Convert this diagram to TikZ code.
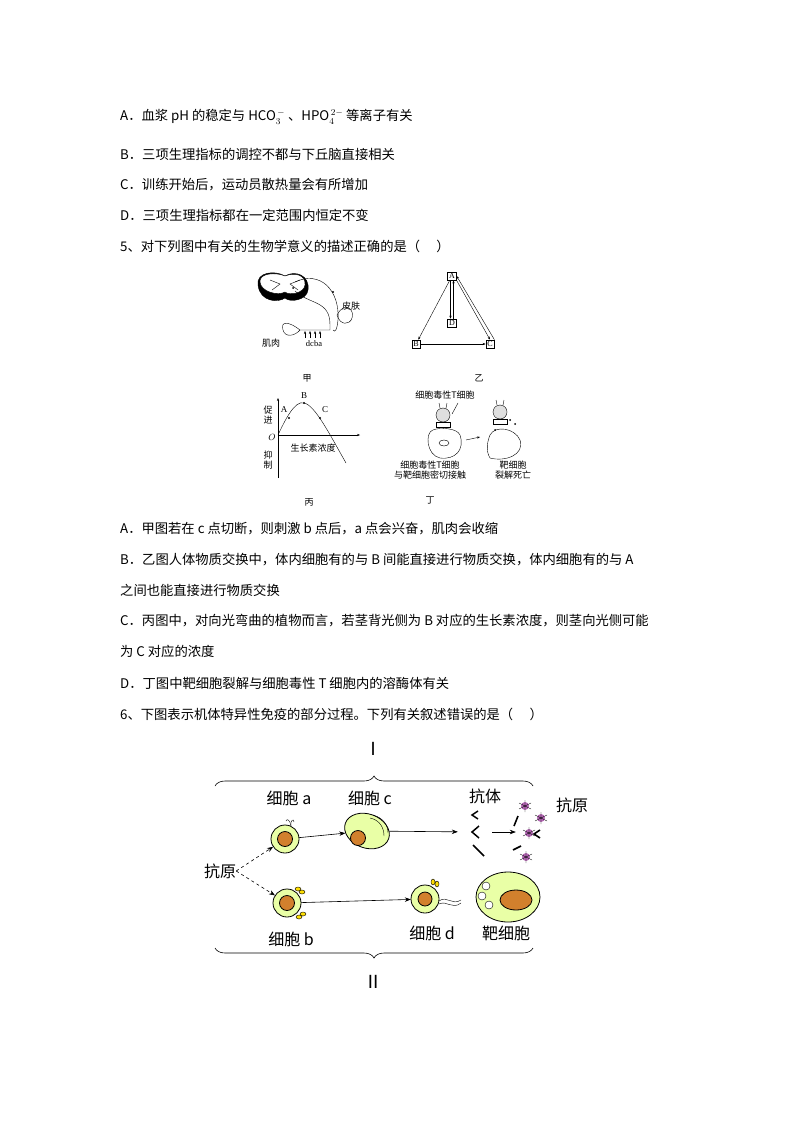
\documentclass[tikz,border=0pt]{standalone}
\usepackage{fontspec}
\setmainfont{Liberation Serif}
\newfontfamily\cjk{Noto Sans CJK SC}
\usetikzlibrary{arrows.meta,decorations.pathreplacing,shapes.geometric}
\begin{document}
\begin{tikzpicture}[x=1pt,y=-1pt,
  txt/.style={anchor=west,inner sep=0,font=\cjk\fontsize{13.3}{15}\selectfont},
  sm/.style={inner sep=0,font=\cjk\fontsize{9}{10.5}\selectfont},
  big/.style={inner sep=0,font=\cjk\fontsize{16}{18}\selectfont},
  bx/.style={draw,inner sep=1.5pt,font=\fontsize{8}{9}\selectfont},
  cell/.style={draw,thick,fill=green!25!yellow!35},
  nuc/.style={draw,thick,fill=brown!70!orange},
  ar/.style={-{Stealth[length=6pt]},semithick},
  sa/.style={-{Stealth[length=3pt]},thin}]
\useasboundingbox (0,0) rectangle (794,1123);
\node[txt] (t1) at (120,117) {A．血浆 pH 的稳定与 HCO$_3^{\,-}$ 、HPO$_4^{\,2-}$ 等离子有关};
\node[txt] (t2) at (120,154) {B．三项生理指标的调控不都与下丘脑直接相关};
\node[txt] (t3) at (120,185) {C．训练开始后，运动员散热量会有所增加};
\node[txt] (t4) at (120,215) {D．三项生理指标都在一定范围内恒定不变};
\node[txt] (t5) at (120,246) {5、对下列图中有关的生物学意义的描述正确的是（\quad\ ）};
\node[txt] (t6) at (120,529) {A．甲图若在 c 点切断，则刺激 b 点后，a 点会兴奋，肌肉会收缩};
\node[txt] (t7) at (120,560) {B．乙图人体物质交换中，体内细胞有的与 B 间能直接进行物质交换，体内细胞有的与 A};
\node[txt] (t8) at (120,590) {之间也能直接进行物质交换};
\node[txt] (t9) at (120,621) {C．丙图中，对向光弯曲的植物而言，若茎背光侧为 B 对应的生长素浓度，则茎向光侧可能};
\node[txt] (t10) at (120,651) {为 C 对应的浓度};
\node[txt] (t11) at (120,683) {D．丁图中靶细胞裂解与细胞毒性 T 细胞内的溶酶体有关};
\node[txt] (t12) at (120,714) {6、下图表示机体特异性免疫的部分过程。下列有关叙述错误的是（\quad\ ）};
% 甲
\draw[fill=black] (258,285) .. controls (256,272) and (275,270) .. (285,276) .. controls (295,270) and (310,275) .. (308,290) .. controls (307,300) and (290,303) .. (285,298) .. controls (278,303) and (260,302) .. (258,285);
\draw[fill=white] (260,282) .. controls (259,273) and (276,272) .. (285,276) .. controls (295,272) and (306,275) .. (305,285) .. controls (304,293) and (290,296) .. (285,292) .. controls (278,296) and (261,292) .. (260,282);
\draw (270,280) -- (280,284) -- (272,290) (300,280) -- (290,284) -- (298,290);
\fill (293,288) circle (1pt) (333,292) circle (1.2pt);
\draw (295,282) .. controls (320,270) and (340,290) .. (338,320) .. controls (337,330) and (335,333) .. (333,330);
\draw (295,291) .. controls (310,305) and (330,300) .. (330,325) -- (330,330) -- (300,330);
\draw (337,315) .. controls (345,300) and (355,310) .. (352,318) .. controls (350,325) and (340,326) .. (337,315);
\draw (300,330) .. controls (290,322) and (280,320) .. (283,330) .. controls (285,338) and (295,336) .. (300,330);
\foreach \x in {305,310,315,320}{\draw[sa] (\x,338) -- (\x,331);}
\node[sm] (jr) at (271,343) {肌肉};
\node[inner sep=0,font=\fontsize{8.5}{9}\selectfont] (dcba) at (314,344) {dcba};
\node[sm] (pf) at (351,306) {皮肤};
\node[sm] (jia) at (307,378) {甲};
% 乙
\node[bx] (A) at (452,276) {A};
\node[bx] (D) at (452,323) {D};
\node[bx] (B) at (416,344) {B};
\node[bx] (C) at (490,344) {C};
\draw[sa] (A) -- (B);
\draw[sa] (B) -- (C);
\draw[sa] ([xshift=-1.5pt]A.south) -- ([xshift=-1.5pt]D.north);
\draw[sa] ([xshift=1.5pt]D.north) -- ([xshift=1.5pt]A.south);
\draw[sa] (A.south east) -- (C.north);
\draw[sa] (C.north east) -- (A.east);
\node[sm] (yi) at (479,378) {乙};
% 丙
\coordinate (O) at (278,435);
\draw[sa] (278,478) -- (278,398);
\draw[sa] (O) -- (360,435);
\draw (O) .. controls (285,420) and (295,400) .. (304,403) .. controls (315,405) and (330,435) .. (346,463);
\fill (289,418) circle (1.2pt) (304,403) circle (1.2pt) (320,418) circle (1.2pt);
\node[inner sep=0,font=\fontsize{9}{9}\selectfont] (la) at (284,410) {A};
\node[inner sep=0,font=\fontsize{9}{9}\selectfont] (lb) at (304,396) {B};
\node[inner sep=0,font=\fontsize{9}{9}\selectfont] (lc) at (325,410) {C};
\node[inner sep=0,font=\itshape\fontsize{9}{9}\selectfont] (lo) at (272,437) {$O$};
\node[sm,align=center] (cj) at (268,415) {促\\进};
\node[sm,align=center] (yz) at (268,460) {抑\\制};
\node[sm] (szs) at (313,448) {生长素浓度};
\node[sm] (bing) at (309,502) {丙};
% 丁
\node[sm] (tc) at (445,395) {细胞毒性T细胞};
\draw[fill=gray!25] (443,415) circle (7);
\draw (440,408) -- (439,403) (446,408) -- (447,403);
\draw (436,422) rectangle (450,427);
\draw (452,414) -- (458,403);
\draw (433,430) .. controls (425,432) and (426,455) .. (440,458) .. controls (455,460) and (465,450) .. (460,435) .. controls (457,428) and (440,427) .. (433,430);
\draw (444,443) ellipse (5 and 3);
\draw[sa] (466,440) -- (480,437);
\draw[fill=gray!25] (500,412) circle (7);
\draw (497,405) -- (496,400) (503,405) -- (504,400);
\draw (493,419) rectangle (507,424);
\draw (490,435) .. controls (495,425) and (515,428) .. (520,440) .. controls (525,455) and (505,462) .. (490,458) .. controls (485,450) and (488,440) .. (490,435);
\fill (510,420) circle (1) (515,424) circle (1) (495,430) circle (1);
\node[sm,align=center] (tcm) at (430,470) {细胞毒性T细胞\\与靶细胞密切接触};
\node[sm,align=center] (bxb) at (513,470) {靶细胞\\裂解死亡};
\node[sm] (ding) at (430,500) {丁};
% Figure 6
\draw[semithick,decorate,decoration={brace,amplitude=10pt}] (215,786) -- (533,786);
\node[big,font=\cjk\fontsize{18}{18}\selectfont] (I) at (373,749) {Ⅰ};
\draw[semithick,decorate,decoration={brace,amplitude=10pt,mirror}] (215,948) -- (533,948);
\node[big,font=\cjk\fontsize{18}{18}\selectfont] (II) at (373,982) {Ⅱ};
\node[big] (ky) at (220,871) {抗原};
\node[big] (xa) at (289,798) {细胞 a};
\node[big] (xc) at (370,798) {细胞 c};
\node[big] (kt) at (485,796) {抗体};
\node[big] (ky2) at (572,805) {抗原};
\node[big] (xb) at (291,939) {细胞 b};
\node[big] (xd) at (432,933) {细胞 d};
\node[big] (bx) at (506,933) {靶细胞};
\draw[cell] (285,839) circle (14);
\node[nuc,circle,minimum size=15pt,inner sep=0] (na) at (285,839) {};
\node[circle,minimum size=28pt,inner sep=0] (cellA) at (285,839) {};
\draw (291,826) .. controls (290,820) and (294,818) .. (294,822);
\draw (291,826) .. controls (290,820) and (287,818) .. (286,821);
\node[cell,ellipse,minimum width=46pt,minimum height=34pt,rotate=-20] (cellC) at (367,831) {};
\node[nuc,circle,minimum size=15pt,inner sep=0] (nc) at (358,838) {};
\draw (370,818) .. controls (380,820) and (384,828) .. (384,836);
\draw (373,815) .. controls (384,818) and (388,826) .. (388,833);
\node[circle,minimum size=28pt,inner sep=0] (cellB) at (287,903) {};
\draw[cell] (287,903) circle (14);
\node[nuc,circle,minimum size=15pt,inner sep=0] (nb) at (287,903) {};
\draw[fill=yellow!80!orange] (298,889) ellipse (3 and 2) (302,892) ellipse (3 and 2) (299,917) ellipse (3 and 2) (303,914) ellipse (3 and 2);
\node[circle,minimum size=28pt,inner sep=0] (cellD) at (425,899) {};
\draw[cell] (425,899) circle (14);
\node[nuc,circle,minimum size=14pt,inner sep=0] (nd) at (425,899) {};
\draw[fill=yellow!80!orange] (433,882) ellipse (2 and 3) (437,884) ellipse (2 and 3);
\node[cell,ellipse,minimum width=64pt,minimum height=50pt] (tg) at (508,897) {};
\node[nuc,ellipse,minimum width=32pt,minimum height=20pt] (ntg) at (516,900) {};
\draw[fill=white] (486,886) circle (4) (482,896) circle (4) (489,905) circle (4);
\draw (439,901) .. controls (447,895) and (452,906) .. (461,900) (439,904) .. controls (447,900) and (452,910) .. (461,903);
\draw[line width=1.5pt] (478,811) -- (472,815) -- (478,819);
\draw[line width=1.5pt] (479,826) -- (472,832) -- (479,838);
\draw[line width=1.5pt] (473,845) -- (479,851) -- (484,856);
\node[inner sep=0,minimum width=34pt] (ktgrp) at (475,832) {};
\node[inner sep=0,minimum width=8pt] (agrp) at (520,832) {};
\foreach \p in {(525,806),(541,818),(529,833),(526,857)}{
  \fill[violet!60] \p circle (4);
  \draw[thin] \p ++(-6,-3) -- ++(12,6) \p ++(-6,3) -- ++(12,-6) \p ++(0,-6) -- ++(0,12);}
\draw[line width=1.6pt] (518,816) -- (514,826) (540,830) -- (534,834) -- (540,838) (513,850) -- (521,846);
\draw[ar] (cellA) -- (cellC);
\draw[ar] (cellC) -- (ktgrp);
\draw[ar] (ktgrp) -- (agrp);
\draw[ar] (cellB) -- (cellD);
\draw[ar,dashed] (ky.east) -- (cellA);
\draw[ar,dashed] (ky.east) -- (cellB);
\end{tikzpicture}
\end{document}
